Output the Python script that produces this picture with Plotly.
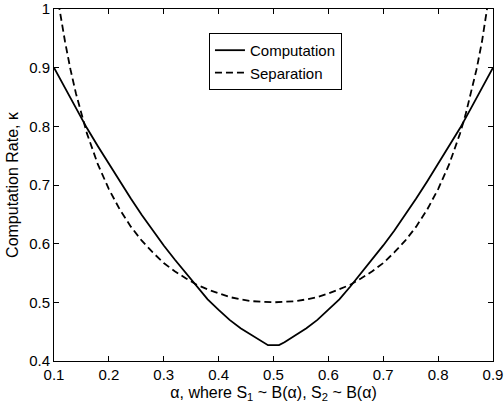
import plotly.graph_objects as go

alpha_comp = [0.10, 0.12, 0.14, 0.16, 0.18, 0.20, 0.22, 0.24, 0.26, 0.28, 0.30, 0.32, 0.34, 0.36, 0.38,
              0.40, 0.42, 0.44, 0.46, 0.48, 0.49, 0.51, 0.52, 0.54, 0.56, 0.58, 0.60, 0.62, 0.64, 0.66,
              0.68, 0.70, 0.72, 0.74, 0.76, 0.78, 0.80, 0.82, 0.84, 0.86, 0.88, 0.90]
computation = [0.900, 0.865, 0.831, 0.797, 0.766, 0.736, 0.706, 0.677, 0.649, 0.622, 0.597, 0.573, 0.550,
               0.527, 0.505, 0.487, 0.470, 0.456, 0.444, 0.432, 0.427, 0.427, 0.432, 0.444, 0.456, 0.470,
               0.487, 0.505, 0.527, 0.550, 0.573, 0.597, 0.622, 0.649, 0.677, 0.706, 0.736, 0.766, 0.797,
               0.831, 0.865, 0.900]

alpha_sep = [0.10, 0.11, 0.12, 0.13, 0.14, 0.15, 0.16, 0.18, 0.20, 0.22, 0.24, 0.26, 0.28, 0.30, 0.32,
             0.34, 0.36, 0.38, 0.40, 0.42, 0.44, 0.46, 0.48, 0.50, 0.52, 0.54, 0.56, 0.58, 0.60, 0.62,
             0.64, 0.66, 0.68, 0.70, 0.72, 0.74, 0.76, 0.78, 0.80, 0.82, 0.84, 0.85, 0.86, 0.87, 0.88,
             0.89, 0.90]
separation = [1.066, 1.000, 0.945, 0.897, 0.856, 0.820, 0.788, 0.735, 0.693, 0.658, 0.629, 0.605, 0.585,
              0.567, 0.553, 0.541, 0.530, 0.522, 0.515, 0.509, 0.505, 0.502, 0.501, 0.500, 0.501, 0.502,
              0.505, 0.509, 0.515, 0.522, 0.530, 0.541, 0.553, 0.567, 0.585, 0.605, 0.629, 0.658, 0.693,
              0.735, 0.788, 0.820, 0.856, 0.897, 0.945, 1.000, 1.066]

x_ticks = [0.1, 0.2, 0.3, 0.4, 0.5, 0.6, 0.7, 0.8, 0.9]
x_labels = ["0.1", "0.2", "0.3", "0.4", "0.5", "0.6", "0.7", "0.8", "0.9"]
y_ticks = [0.4, 0.5, 0.6, 0.7, 0.8, 0.9, 1.0]
y_labels = ["0.4", "0.5", "0.6", "0.7", "0.8", "0.9", "1"]

fig = go.Figure()
fig.add_trace(go.Scatter(x=alpha_comp, y=computation, mode="lines", name="Computation",
                         line=dict(color="black", width=1.8)))
fig.add_trace(go.Scatter(x=alpha_sep, y=separation, mode="lines", name="Separation",
                         line=dict(color="black", width=1.8, dash="7px,4px")))

font = "Liberation Sans, Arial, sans-serif"
axis_common = dict(showline=True, linecolor="black", linewidth=1, mirror="ticks", ticks="inside",
                   ticklen=5, tickcolor="black", showgrid=False, zeroline=False, automargin=False,
                   tickfont=dict(family=font, size=15, color="black"))

fig.update_layout(
    width=504, height=408,
    margin=dict(l=54, r=11, t=9, b=47),
    paper_bgcolor="white", plot_bgcolor="white",
    showlegend=True,
    legend=dict(x=0.353, y=0.932, xanchor="left", yanchor="top",
                bordercolor="black", borderwidth=1, bgcolor="white",
                font=dict(family=font, size=15, color="black"),
                tracegroupgap=0),
    xaxis=dict(range=[0.1, 0.9], tickvals=x_ticks, ticktext=x_labels,
               title=dict(text="α, where S<sub>1</sub> ~ B(α), S<sub>2</sub> ~ B(α)",
                          font=dict(family=font, size=16, color="black"), standoff=4),
               **axis_common),
    yaxis=dict(range=[0.4, 1.0], tickvals=y_ticks, ticktext=y_labels,
               title=dict(text="Computation Rate, κ",
                          font=dict(family=font, size=16, color="black"), standoff=6),
               **axis_common),
)

fig.write_html("out.html", config={"displayModeBar": False},
               post_script="document.body.style.margin='0';document.body.style.overflow='hidden';")
